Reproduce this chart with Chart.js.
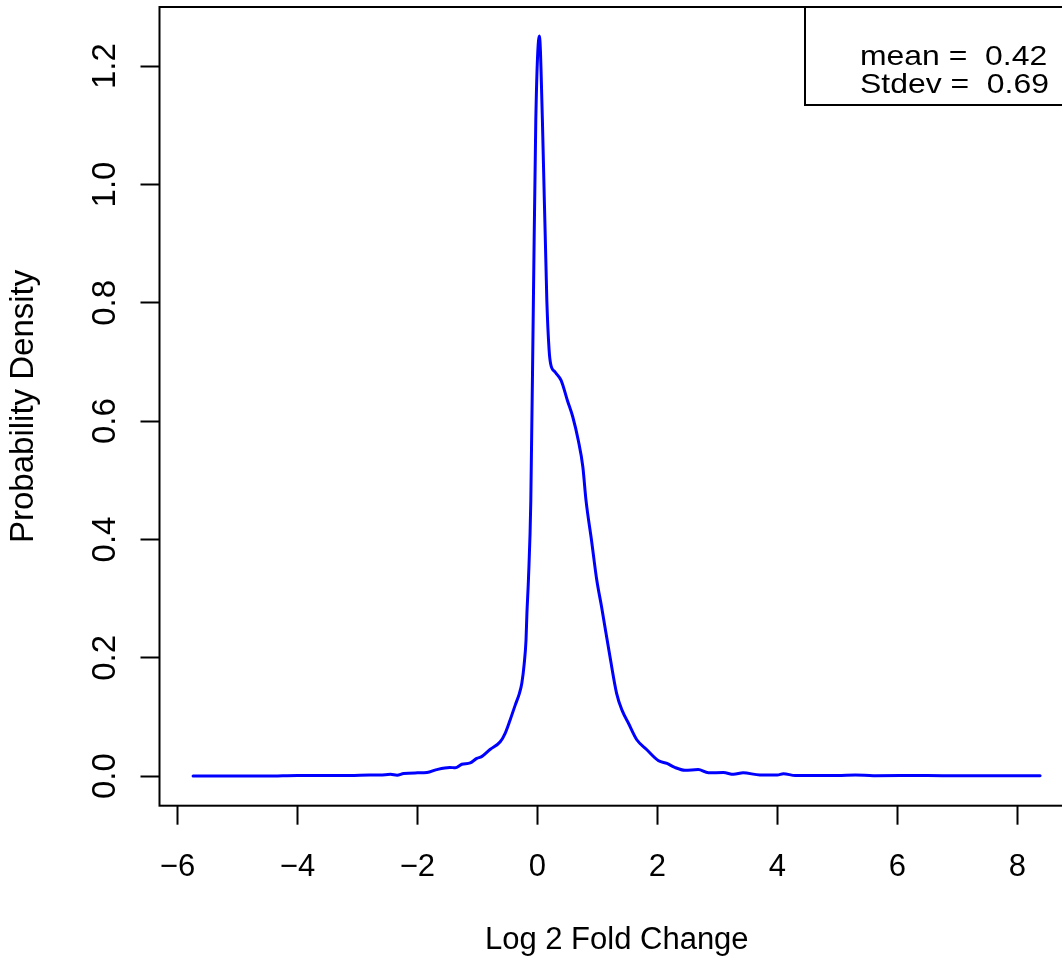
<!DOCTYPE html>
<html>
<head>
<meta charset="utf-8">
<script src="https://cdn.jsdelivr.net/npm/chart.js@4.4.1/dist/chart.umd.min.js"></script>
<style>
  html, body { margin: 0; padding: 0; background: #fff; overflow: hidden; }
  #wrap { width: 1062px; height: 960px; overflow: hidden; }
</style>
</head>
<body>
<div id="wrap"><canvas id="densityChart" width="1090" height="960"></canvas></div>
<script>
"use strict"

// density curve
const foldChange = [
  -5.74, -5.0, -4.5, -4.0, -3.5, -3.12, -2.8, -2.62, -2.45, -2.34, -2.23, -2.0, -1.84, -1.68,
  -1.46, -1.37, -1.26, -1.12, -1.01, -0.93, -0.79, -0.62, -0.54, -0.455, -0.37, -0.30, -0.26,
  -0.22, -0.19, -0.175, -0.15, -0.11, -0.067, -0.027, 0.033, 0.083, 0.157, 0.195, 0.22, 0.295,
  0.395, 0.50, 0.59, 0.68, 0.757, 0.81, 0.90, 0.99, 1.07, 1.21, 1.32, 1.41, 1.52, 1.66, 1.82,
  2.02, 2.16, 2.29, 2.46, 2.68, 2.85, 3.10, 3.27, 3.43, 3.71, 4.0, 4.1, 4.3, 5.0, 5.3, 5.6,
  6.5, 7.0, 8.0, 8.38
];
const density = [
  0.000, 0.000, 0.000, 0.001, 0.001, 0.001, 0.002, 0.002, 0.003, 0.0015, 0.0045, 0.0055, 0.006, 0.011,
  0.0147, 0.014, 0.020, 0.0225, 0.030, 0.033, 0.045, 0.058, 0.072, 0.095, 0.12, 0.14, 0.157,
  0.19, 0.23, 0.275, 0.331, 0.466, 0.804, 1.109, 1.251, 1.109, 0.804, 0.72, 0.697, 0.683,
  0.669, 0.635, 0.607, 0.568, 0.523, 0.466, 0.40, 0.331, 0.286, 0.2016, 0.14, 0.1115, 0.089, 0.061, 0.045,
  0.026, 0.0214, 0.0147, 0.010, 0.011, 0.0056, 0.006, 0.003, 0.0056, 0.002, 0.002, 0.004, 0.001, 0.001, 0.002, 0.0008,
  0.001, 0.0005, 0.0008, 0.0005
];

const xTicks = [-6, -4, -2, 0, 2, 4, 6, 8];
const yTicks = [0, 0.2, 0.4, 0.6, 0.8, 1.0, 1.2];
const statsLines = ['mean =  0.42', 'Stdev =  0.69'];

const FONT = '"Liberation Sans", Arial, Helvetica, sans-serif';

// white background + R style box round the plot region
const boxPlugin = {
  id: 'rBox',
  beforeDraw(chart) {
    const ctx = chart.ctx;
    ctx.save();
    ctx.fillStyle = '#fff';
    ctx.fillRect(0, 0, chart.width, chart.height);
    ctx.restore();
  },
  afterDraw(chart) {
    const {ctx, chartArea} = chart;
    ctx.save();
    ctx.strokeStyle = '#000';
    ctx.lineWidth = 2;
    ctx.strokeRect(chartArea.left, chartArea.top, chartArea.right - chartArea.left, chartArea.bottom - chartArea.top);

    // y tick labels, rotated like R's las=0
    const yScale = chart.scales.y;
    ctx.fillStyle = '#000';
    ctx.font = '33px ' + FONT;
    ctx.textAlign = 'center';
    ctx.textBaseline = 'alphabetic';
    yScale.ticks.forEach(t => {
      ctx.save();
      ctx.translate(chartArea.left - 45, yScale.getPixelForValue(t.value));
      ctx.rotate(-Math.PI / 2);
      ctx.fillText(t.value.toFixed(1), 0, 0);
      ctx.restore();
    });

    // stats legend in the top right corner
    const boxLeft = chartArea.right - 269;
    ctx.fillStyle = '#fff';
    ctx.fillRect(boxLeft, chartArea.top, chartArea.right - boxLeft, 98);
    ctx.strokeRect(boxLeft, chartArea.top, chartArea.right - boxLeft, 98);
    ctx.fillStyle = '#000';
    ctx.font = '28.5px ' + FONT;
    ctx.textAlign = 'left';
    statsLines.forEach((txt, i) => {
      ctx.save();
      ctx.translate(boxLeft + 55, chartArea.top + 58 + i * 28.3);
      ctx.scale(1.12, 1);
      ctx.fillText(txt, 0, 0);
      ctx.restore();
    });
    ctx.restore();
  }
};

const ctxD = document.getElementById('densityChart').getContext('2d');
const densityChart = new Chart(ctxD, {
  type: 'line',
  data: {
    datasets: [{
      label: 'density',
      data: foldChange.map((x, i) => ({x: x, y: density[i]})),
      borderColor: '#0000ff',
      borderWidth: 3,
      pointRadius: 0,
      fill: false,
      cubicInterpolationMode: 'monotone',
      borderJoinStyle: 'round',
      borderCapStyle: 'round'
    }]
  },
  options: {
    responsive: false,
    animation: false,
    layout: { padding: { top: 7, right: 16, left: 0, bottom: 0 } },
    plugins: { legend: { display: false }, tooltip: { enabled: false } },
    scales: {
      x: {
        type: 'linear',
        min: -6.3,
        max: 8.945,
        afterBuildTicks: scale => { scale.ticks = xTicks.map(v => ({value: v})); },
        afterFit: scale => {
          scale.height = 154.3;
          scale.paddingLeft = 0;
          scale.paddingRight = 0;
        },
        border: { display: false },
        grid: { drawOnChartArea: false, tickLength: 19, tickWidth: 2, tickColor: '#000' },
        ticks: {
          autoSkip: false,
          maxRotation: 0,
          padding: 24,
          color: '#000',
          font: { family: FONT, size: 31 },
          callback: v => String(v).replace('-', '\u2212')
        },
        title: {
          display: true,
          text: 'Log 2 Fold Change',
          color: '#000',
          font: { family: FONT, size: 31 },
          padding: { top: 0, bottom: 1 }
        }
      },
      y: {
        min: -0.05,
        max: 1.3,
        afterBuildTicks: scale => { scale.ticks = yTicks.map(v => ({value: v})); },
        afterFit: scale => {
          scale.width = 159.5;
          scale.paddingTop = 0;
          scale.paddingBottom = 0;
        },
        border: { display: false },
        grid: { drawOnChartArea: false, tickLength: 19, tickWidth: 2, tickColor: '#000' },
        ticks: { color: 'rgba(0,0,0,0)', font: { family: FONT, size: 2 } },
        title: {
          display: true,
          text: 'Probability Density',
          color: '#000',
          font: { family: FONT, size: 33 },
          padding: { top: 4, bottom: 0 }
        }
      }
    }
  },
  plugins: [boxPlugin]
});
</script>
</body>
</html>
